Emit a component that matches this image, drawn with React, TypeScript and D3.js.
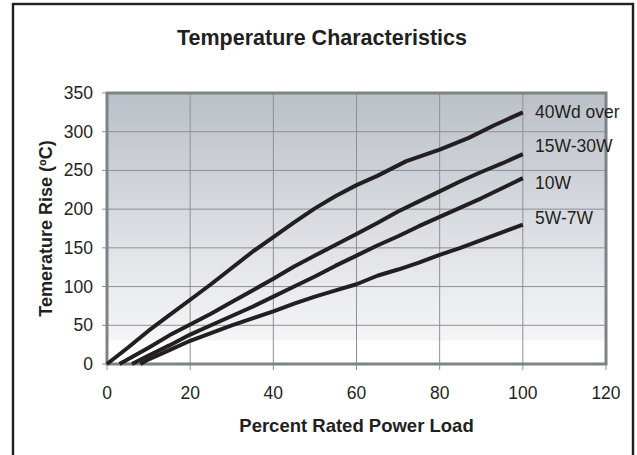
import { useEffect, useRef } from "react";
import * as d3 from "d3";

// percent rated power load -> temperature rise (ºC)
const series40W = [
  [0, 0], [5, 21], [10, 43], [15, 63], [20, 83], [25, 103], [30, 124], [35, 145],
  [40, 164], [45, 183], [50, 201], [55, 217], [60, 231], [65, 243], [72, 262],
  [80, 277], [87, 292], [93, 308], [100, 325],
];
const series15W = [
  [3, 0], [10, 21], [15, 37], [20, 51], [25, 65], [30, 80], [35, 95], [40, 110],
  [45, 126], [50, 140], [55, 154], [60, 168], [65, 182], [70, 197], [75, 210],
  [80, 223], [85, 236], [90, 248], [95, 259], [100, 271],
];
const series10W = [
  [6, 0], [10, 11], [15, 24], [20, 38], [25, 50], [30, 62], [35, 74], [40, 87],
  [45, 100], [50, 113], [55, 127], [60, 140], [65, 153], [70, 165], [75, 178],
  [80, 190], [85, 202], [90, 214], [95, 227], [100, 240],
];
const series5W = [
  [8, 0], [10, 6], [15, 18], [20, 30], [25, 40], [30, 50], [35, 59], [40, 68],
  [45, 78], [50, 87], [55, 95], [60, 103], [65, 114], [70, 122], [75, 131],
  [80, 141], [85, 150], [90, 160], [95, 170], [100, 180],
];
const seriesNames = ["40Wd over", "15W-30W", "10W", "5W-7W"];
const labelValues = [325, 281, 234, 188];
const xTicks = [0, 20, 40, 60, 80, 100, 120];
const yTicks = [0, 50, 100, 150, 200, 250, 300, 350];

const W = 637;
const H = 455;
const font = "'Liberation Sans', Arial, sans-serif";

export default function App() {
  const svgRef = useRef<SVGSVGElement>(null);

  useEffect(() => {
    if (!svgRef.current) return;
    const svg = d3.select(svgRef.current);
    svg.selectAll("*").remove();

    const x = d3.scaleLinear().domain([0, 120]).range([107, 606]);
    const y = d3.scaleLinear().domain([0, 350]).range([364, 93]);

    svg.append("rect").attr("width", W).attr("height", H).attr("fill", "#fff");

    // outer frame (bottom edge falls outside the picture)
    svg
      .append("rect")
      .attr("x", 13)
      .attr("y", 4)
      .attr("width", 620)
      .attr("height", 470)
      .attr("fill", "none")
      .attr("stroke", "#231f20")
      .attr("stroke-width", 2.4);

    svg
      .append("text")
      .attr("x", 322)
      .attr("y", 45)
      .attr("text-anchor", "middle")
      .attr("font-family", font)
      .attr("font-weight", "bold")
      .attr("font-size", 21.5)
      .attr("fill", "#231f20")
      .text("Temperature Characteristics");

    const defs = svg.append("defs");
    const grad = defs
      .append("linearGradient")
      .attr("id", "bg")
      .attr("x1", 0)
      .attr("y1", 0)
      .attr("x2", 0)
      .attr("y2", 1);
    grad.append("stop").attr("offset", 0).attr("stop-color", "#bbc0c8");
    grad.append("stop").attr("offset", 0.45).attr("stop-color", "#d5d8dd");
    grad.append("stop").attr("offset", 0.75).attr("stop-color", "#e8e9ec");
    grad.append("stop").attr("offset", 1).attr("stop-color", "#f5f5f6");

    svg
      .append("rect")
      .attr("x", x(0))
      .attr("y", y(350))
      .attr("width", x(120) - x(0))
      .attr("height", y(30) - y(350))
      .attr("fill", "url(#bg)");

    // grid
    const grid = svg.append("g").attr("stroke", "#8d9093").attr("stroke-width", 1);
    grid
      .selectAll("line.h")
      .data(yTicks.slice(1, -1))
      .enter()
      .append("line")
      .attr("x1", x(0))
      .attr("x2", x(120))
      .attr("y1", (d) => y(d))
      .attr("y2", (d) => y(d));
    grid
      .selectAll("line.v")
      .data(xTicks.slice(1, -1))
      .enter()
      .append("line")
      .attr("x1", (d) => x(d))
      .attr("x2", (d) => x(d))
      .attr("y1", y(0))
      .attr("y2", y(350));

    // tick marks
    const ticks = svg.append("g").attr("stroke", "#8d9093").attr("stroke-width", 1);
    ticks
      .selectAll("line.yt")
      .data(yTicks)
      .enter()
      .append("line")
      .attr("x1", x(0) - 5)
      .attr("x2", x(0))
      .attr("y1", (d) => y(d))
      .attr("y2", (d) => y(d));
    ticks
      .selectAll("line.xt")
      .data(xTicks)
      .enter()
      .append("line")
      .attr("x1", (d) => x(d))
      .attr("x2", (d) => x(d))
      .attr("y1", y(0))
      .attr("y2", y(0) + 6);

    // plot frame
    svg
      .append("rect")
      .attr("x", x(0))
      .attr("y", y(350))
      .attr("width", x(120) - x(0))
      .attr("height", y(0) - y(350))
      .attr("fill", "none")
      .attr("stroke", "#7c8488")
      .attr("stroke-width", 3);

    // tick labels
    svg
      .append("g")
      .selectAll("text")
      .data(yTicks)
      .enter()
      .append("text")
      .attr("x", 93)
      .attr("y", (d) => y(d) + 6)
      .attr("text-anchor", "end")
      .attr("font-family", font)
      .attr("font-size", 17.5)
      .attr("fill", "#231f20")
      .text((d) => d);
    svg
      .append("g")
      .selectAll("text")
      .data(xTicks)
      .enter()
      .append("text")
      .attr("x", (d) => x(d))
      .attr("y", 399)
      .attr("text-anchor", "middle")
      .attr("font-family", font)
      .attr("font-size", 17.5)
      .attr("fill", "#231f20")
      .text((d) => d);

    // axis titles
    svg
      .append("text")
      .attr("x", (x(0) + x(120)) / 2)
      .attr("y", 431.5)
      .attr("text-anchor", "middle")
      .attr("font-family", font)
      .attr("font-weight", "bold")
      .attr("font-size", 18.5)
      .attr("fill", "#231f20")
      .text("Percent Rated Power Load");
    svg
      .append("text")
      .attr("transform", `translate(51.5,${(y(0) + y(350)) / 2}) rotate(-90)`)
      .attr("text-anchor", "middle")
      .attr("font-family", font)
      .attr("font-weight", "bold")
      .attr("font-size", 18)
      .attr("fill", "#231f20")
      .text("Temerature Rise (ºC)");

    // curves
    const line = d3
      .line<number[]>()
      .x((d) => x(d[0]))
      .y((d) => y(d[1]));
    const allSeries = [series40W, series15W, series10W, series5W];
    svg
      .append("g")
      .selectAll("path")
      .data(allSeries)
      .enter()
      .append("path")
      .attr("d", (d) => line(d))
      .attr("fill", "none")
      .attr("stroke", "#231f20")
      .attr("stroke-width", 4)
      .attr("stroke-linejoin", "round");

    // series labels
    svg
      .append("g")
      .selectAll("text")
      .data(seriesNames)
      .enter()
      .append("text")
      .attr("x", 535)
      .attr("y", (_d, i) => y(labelValues[i]) + 6)
      .attr("font-family", font)
      .attr("font-size", 17.5)
      .attr("fill", "#231f20")
      .text((d) => d);
  }, []);

  return (
    <svg
      ref={svgRef}
      width={W}
      height={H}
      viewBox={`0 0 ${W} ${H}`}
      style={{ position: "absolute", left: 0, top: 0 }}
    />
  );
}
